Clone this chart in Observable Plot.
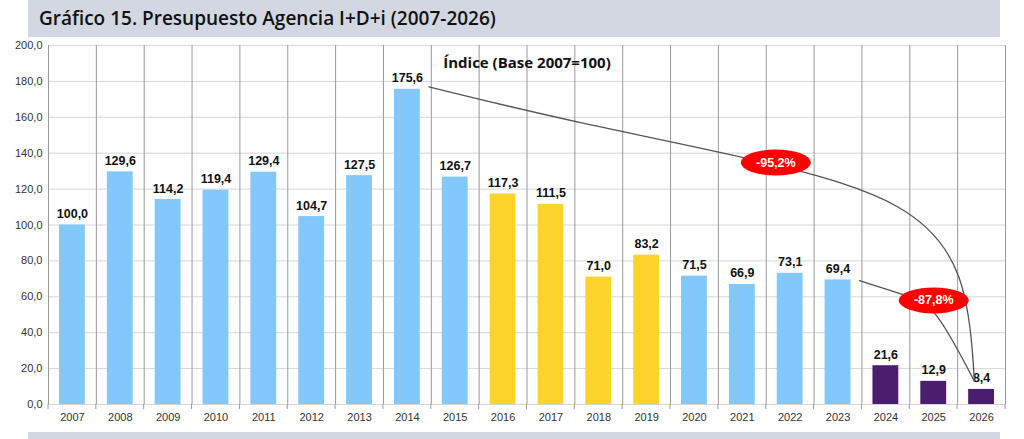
<!DOCTYPE html>
<html><head><meta charset="utf-8">
<script src="https://cdn.jsdelivr.net/npm/d3@7"></script>
<script src="https://cdn.jsdelivr.net/npm/@observablehq/plot@0.6"></script>
<style>
body{margin:0;background:#fff;font-family:"Liberation Sans",Arial,sans-serif;}
#wrap{position:relative;width:1024px;height:439px;overflow:hidden}
#title{position:absolute;left:28px;top:0;width:972px;height:37px;background:#d3d7e1;font-family:"Open Sans",sans-serif;font-weight:600;font-size:19px;line-height:37px;padding-left:11px;box-sizing:border-box;color:#111}
#band{position:absolute;left:28px;top:432px;width:972px;height:7px;background:#d3d7e1}
#chart{position:absolute;left:0;top:37px}
</style></head><body>
<div id="wrap"><div id="title">Gráfico 15. Presupuesto Agencia I+D+i (2007-2026)</div><div id="chart"></div><div id="band"></div></div>
<script>
const years=[2007,2008,2009,2010,2011,2012,2013,2014,2015,2016,2017,2018,2019,2020,2021,2022,2023,2024,2025,2026];
const values=[100.0,129.6,114.2,119.4,129.4,104.7,127.5,175.6,126.7,117.3,111.5,71.0,83.2,71.5,66.9,73.1,69.4,21.6,12.9,8.4];
const groups=["a","a","a","a","a","a","a","a","a","b","b","b","b","a","a","a","a","c","c","c"];
const curve1=[{x:2014.45,y:177},{x:2017.5,y:157},{x:2021.7,y:134.8},{x:2024.5,y:113},{x:2025.7,y:75},{x:2025.85,y:13}];
const curve2=[{x:2023.45,y:69},{x:2024.5,y:60},{x:2025.0,y:56},{x:2025.85,y:13}];
const badges=[{x:2021.7,y:134.8,t:"-95,2%"},{x:2025.0,y:58,t:"-87,8%"}];
const yTicks=[0,20,40,60,80,100,120,140,160,180,200];
const data=years.map((y,i)=>({year:y,value:values[i],g:groups[i]}));
const fmt=v=>v.toFixed(1).replace(".",",");
const hw=0.27;
const ellipses=(i,s,v,d,c,next)=>{const g=next(i,s,v,d,c);g.querySelectorAll("circle").forEach(ci=>{const e=document.createElementNS("http://www.w3.org/2000/svg","ellipse");e.setAttribute("cx",ci.getAttribute("cx"));e.setAttribute("cy",ci.getAttribute("cy"));e.setAttribute("rx",35);e.setAttribute("ry",13);e.setAttribute("fill","#f00");ci.replaceWith(e);});return g;};
const plot=Plot.plot({
  width:1024,height:402,marginLeft:48,marginRight:19,marginTop:8,marginBottom:35,
  style:{fontFamily:"Liberation Sans, Arial, sans-serif"},
  x:{domain:[2006.5,2026.5],axis:null},
  y:{domain:[0,200],axis:null},
  marks:[
    Plot.ruleY(yTicks,{stroke:"#d6d6d6"}),
    Plot.ruleX([2006.5,2026.5],{stroke:"#d6d6d6"}),
    Plot.text(yTicks,{x:2006.5,y:d=>d,text:fmt,textAnchor:"end",dx:-6,fontSize:11,fill:"#333"}),
    Plot.rectY(data,{x1:d=>d.year-hw,x2:d=>d.year+hw,y:"value",fill:d=>d.g==="a"?"#82c8fb":d.g==="b"?"#ffd42a":"#4b1d6e"}),
    Plot.text(data,{x:"year",y:"value",text:d=>fmt(d.value),dy:-11,fontSize:12.5,fontWeight:"bold",fill:"#111"}),
    Plot.tickX(years.map(y=>y+0.5).concat([2006.5]),{y1:0,y2:0,stroke:"#999",render:null}),
    Plot.text(years,{x:d=>d,y:0,text:d=>String(d),dy:13,fontSize:11,fill:"#333"}),
    Plot.line(curve1,{x:"x",y:"y",curve:"basis",stroke:"#555",strokeWidth:1.3}),
    Plot.line(curve2,{x:"x",y:"y",curve:"basis",stroke:"#555",strokeWidth:1.3}),
    Plot.dot(badges,{x:"x",y:"y",r:10,fill:"#f00",render:ellipses}),
    Plot.text(badges,{x:"x",y:"y",text:"t",fill:"#fff",fontWeight:"bold",fontSize:12.5}),
    Plot.text(["Índice (Base 2007=100)"],{x:2016.5,y:190,text:d=>d,fontFamily:"Open Sans, sans-serif",fontWeight:"bold",fontSize:15,fill:"#111"})
  ]
});
// x tick marks below axis
d3.select(plot).append("g").selectAll("line").data(years.map(y=>y+0.5).concat([2006.5])).join("line")
  .attr("x1",d=>plot.scale("x").apply(d)).attr("x2",d=>plot.scale("x").apply(d))
  .attr("y1",367).attr("y2",372).attr("stroke","#999");
document.getElementById("chart").appendChild(plot);
</script></body></html>
